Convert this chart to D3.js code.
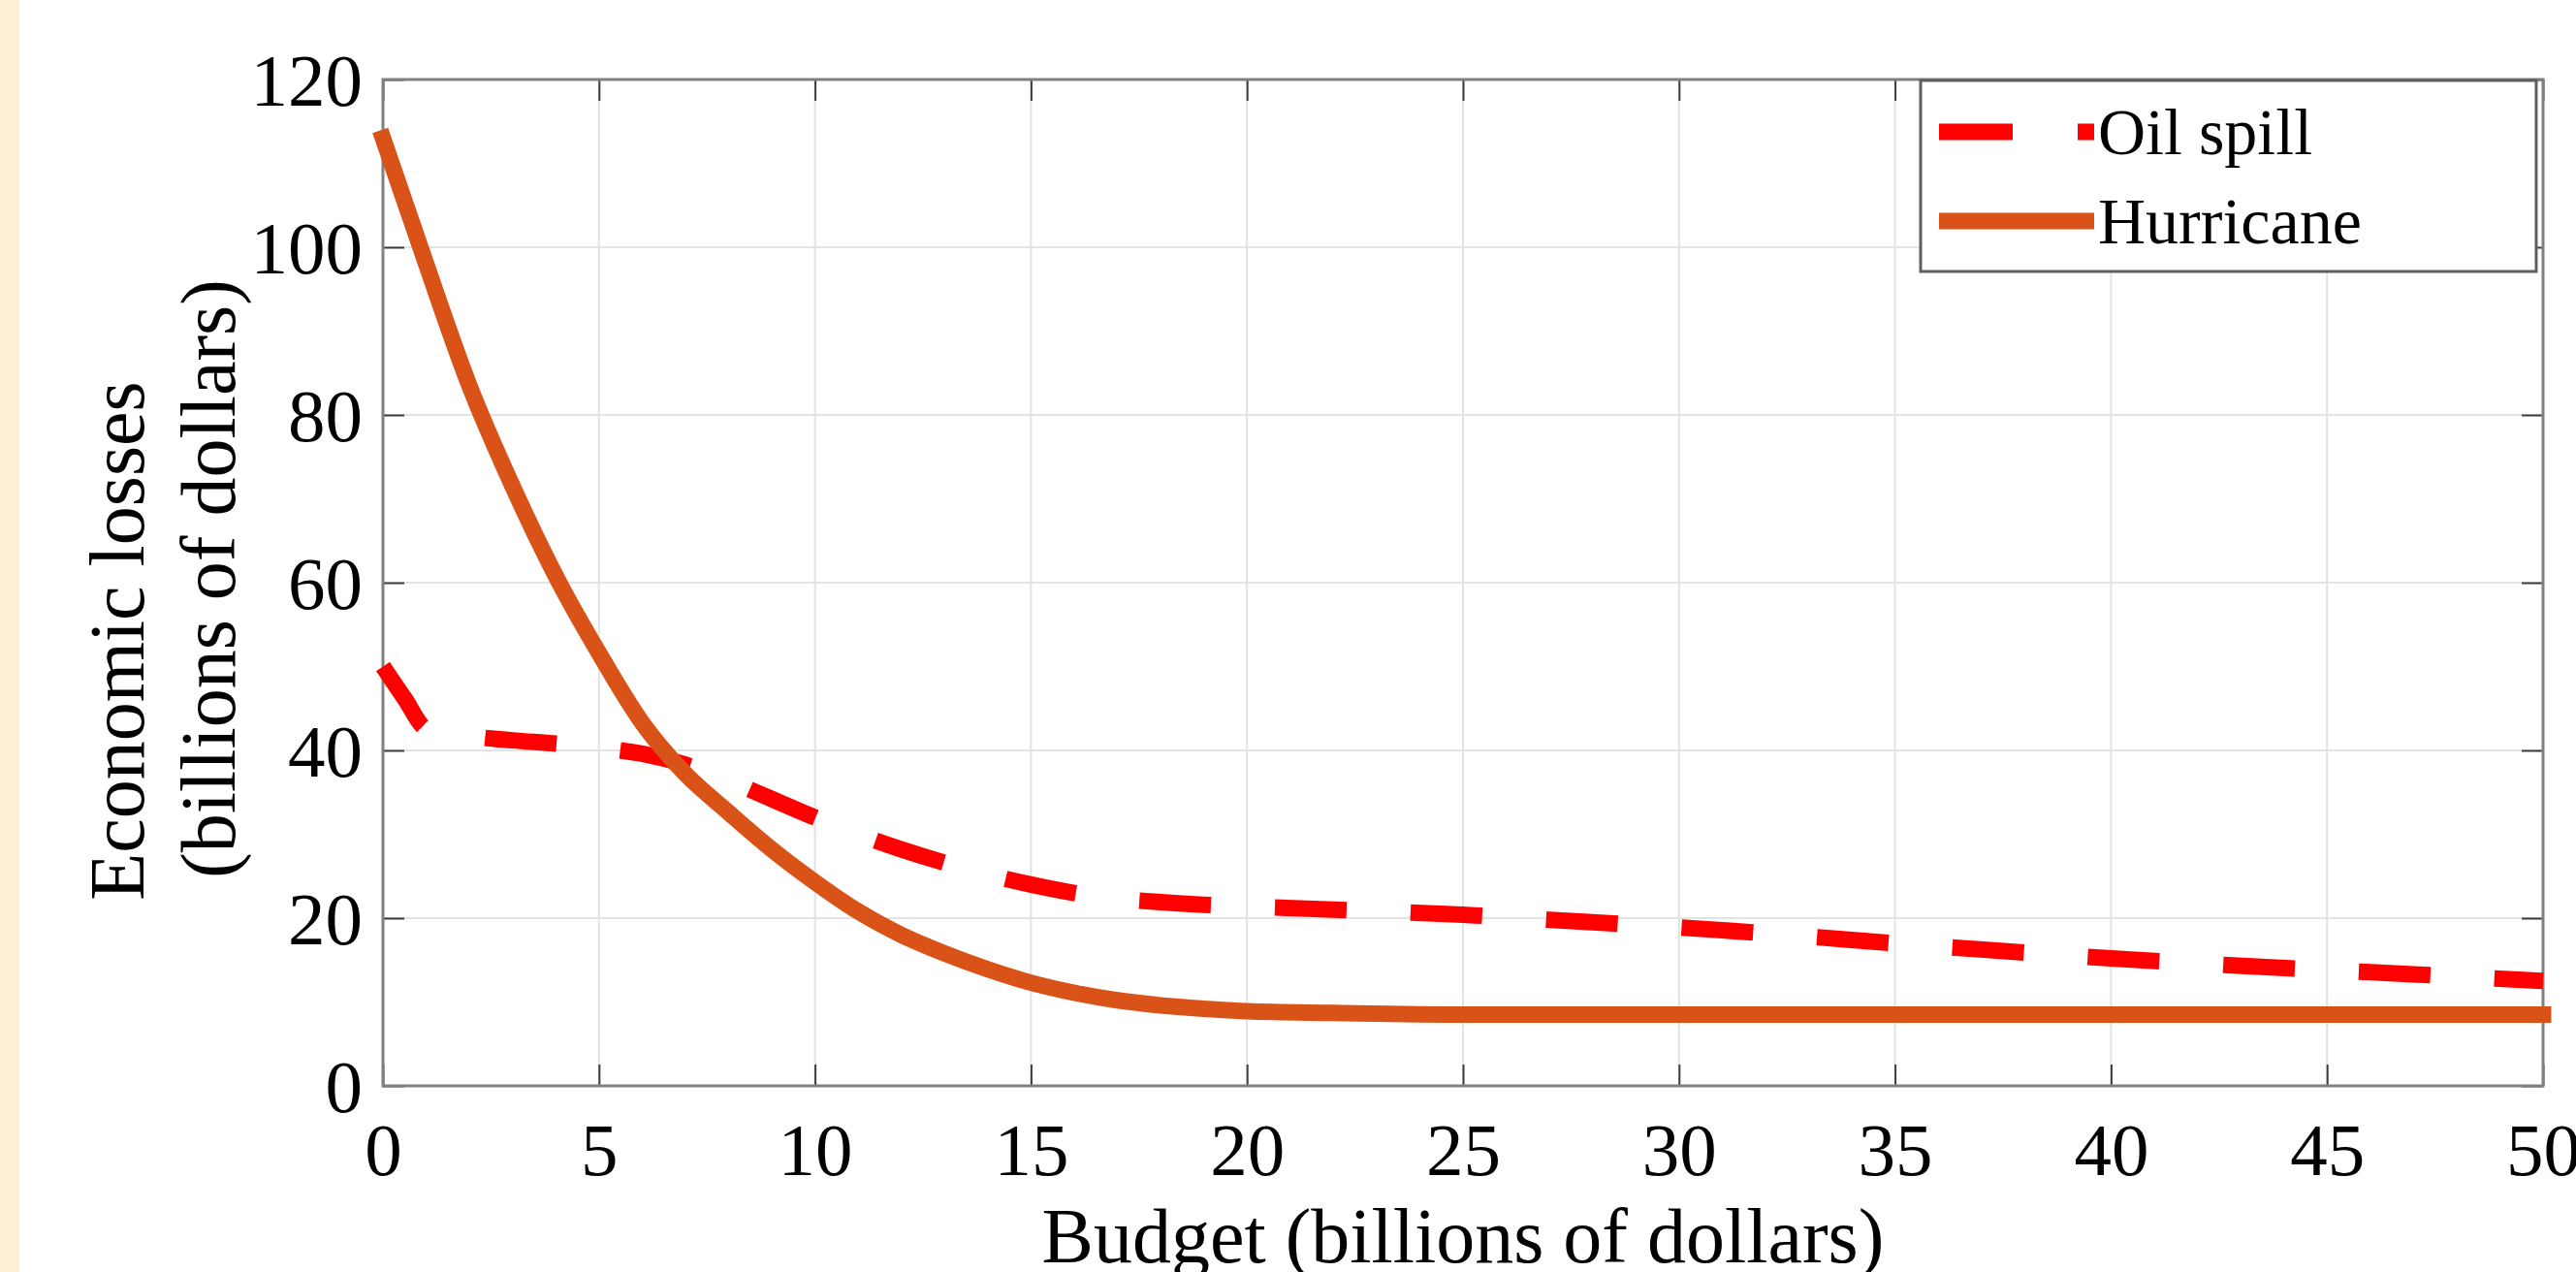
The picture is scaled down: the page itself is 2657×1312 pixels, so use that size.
<!DOCTYPE html>
<html>
<head>
<meta charset="utf-8">
<script src="https://cdn.jsdelivr.net/npm/d3@7"></script>
<style>
  html, body { margin: 0; padding: 0; background: #fff; }
  svg { display: block; font-family: 'Liberation Serif', 'Times New Roman', serif; }
</style>
</head>
<body>
<div id="chart"></div>
<script>
// budget (billions of dollars), shared by both series
const budget = [0, 0.5, 1, 2, 3, 4, 5, 6, 7, 8, 9, 10, 11, 12, 13, 14, 15, 16, 17, 18, 19, 20, 22, 25, 27, 30, 32, 35, 38, 40, 42, 45, 47, 50]
const oilSpill = [50, 46.2, 42.6, 41.7, 41.2, 40.8, 40.3, 39.6, 38.3, 36.4, 34.2, 32, 30, 28.2, 26.6, 25.2, 24, 23, 22.3, 21.9, 21.6, 21.4, 21, 20.4, 19.8, 18.9, 18.2, 17, 15.9, 15.2, 14.6, 13.8, 13.3, 12.5]
const hurricane = [113, 105.5, 98, 83.5, 71.5, 60.8, 51.6, 43.3, 37.2, 32.6, 28.2, 24.3, 20.8, 18, 15.8, 13.9, 12.3, 11.1, 10.2, 9.6, 9.2, 8.9, 8.7, 8.5, 8.5, 8.5, 8.5, 8.5, 8.5, 8.5, 8.5, 8.5, 8.5, 8.5]
const xTicks = [0, 5, 10, 15, 20, 25, 30, 35, 40, 45, 50]
const yTicks = [0, 20, 40, 60, 80, 100, 120]
const seriesNames = ['Oil spill', 'Hurricane']

const W = 2657
const H = 1312
const margin = { top: 82, right: 34, bottom: 192, left: 395 }
const width = W - margin.left - margin.right
const height = H - margin.top - margin.bottom

const svg = d3.select('#chart')
  .append('svg')
  .attr('width', W)
  .attr('height', H)

// cream strip at the left edge
svg.append('rect')
  .attr('x', 0)
  .attr('y', 0)
  .attr('width', 20)
  .attr('height', H)
  .attr('fill', '#fbf0d5')

const g = svg.append('g')
  .attr('transform', `translate(${margin.left},${margin.top})`)

const x = d3.scaleLinear().domain([0, 50]).range([0, width])
const y = d3.scaleLinear().domain([0, 120]).range([height, 0])

// grid
g.append('g')
  .selectAll('line')
  .data(xTicks.slice(1, -1))
  .join('line')
  .attr('x1', d => x(d))
  .attr('x2', d => x(d))
  .attr('y1', 0)
  .attr('y2', height)
  .attr('stroke', '#e3e3e3')
  .attr('stroke-width', 2)

g.append('g')
  .selectAll('line')
  .data(yTicks.slice(1, -1))
  .join('line')
  .attr('x1', 0)
  .attr('x2', width)
  .attr('y1', d => y(d))
  .attr('y2', d => y(d))
  .attr('stroke', '#e3e3e3')
  .attr('stroke-width', 2)

// axes (ticks inward, box on all sides)
const tickLen = 22
const styleAxis = (sel) => {
  sel.select('.domain').remove()
  sel.selectAll('.tick line').attr('stroke', '#3c3c3c').attr('stroke-width', 2)
  sel.selectAll('.tick text')
    .attr('fill', '#000')
    .attr('font-size', 77)
    .attr('font-family', "'Liberation Serif', 'Times New Roman', serif")
}

g.append('g')
  .attr('transform', `translate(0,${height})`)
  .call(d3.axisBottom(x).tickValues(xTicks).tickSize(-tickLen).tickPadding(0).tickFormat(d3.format('d')))
  .call(styleAxis)
  .call(s => s.selectAll('.tick text').attr('dy', null).attr('y', 92))

g.append('g')
  .call(d3.axisTop(x).tickValues(xTicks).tickSize(-tickLen).tickFormat(''))
  .call(styleAxis)

g.append('g')
  .call(d3.axisLeft(y).tickValues(yTicks).tickSize(-tickLen).tickPadding(0).tickFormat(d3.format('d')))
  .call(styleAxis)
  .call(s => s.selectAll('.tick text').attr('x', -21).attr('dy', '0.34em'))

g.append('g')
  .attr('transform', `translate(${width},0)`)
  .call(d3.axisRight(y).tickValues(yTicks).tickSize(-tickLen).tickFormat(''))
  .call(styleAxis)

g.append('rect')
  .attr('x', 0)
  .attr('y', 0)
  .attr('width', width)
  .attr('height', height)
  .attr('fill', 'none')
  .attr('stroke', '#808080')
  .attr('stroke-width', 3)

// lines
const line = (values) => d3.line()
  .x((d, i) => x(budget[i]))
  .y(d => y(d))
  .curve(d3.curveMonotoneX)(values)

g.append('path')
  .attr('d', line(oilSpill))
  .attr('fill', 'none')
  .attr('stroke', '#ff0000')
  .attr('stroke-width', 17)
  .attr('stroke-dasharray', '74,66')

g.append('path')
  .attr('d', line(hurricane))
  .attr('fill', 'none')
  .attr('stroke', '#d95319')
  .attr('stroke-width', 17)
  .attr('stroke-linecap', 'square')

// legend
const legend = svg.append('g')
  .attr('transform', 'translate(1981,83)')

legend.append('rect')
  .attr('width', 635)
  .attr('height', 197)
  .attr('fill', '#fff')
  .attr('stroke', '#5e5e5e')
  .attr('stroke-width', 3)

const legendItems = [
  { name: seriesNames[0], color: '#ff0000', dash: '76,67', y: 53 },
  { name: seriesNames[1], color: '#d95319', dash: null, y: 145 }
]

legendItems.forEach(item => {
  legend.append('line')
    .attr('x1', 19)
    .attr('x2', 179)
    .attr('y1', item.y)
    .attr('y2', item.y)
    .attr('stroke', item.color)
    .attr('stroke-width', 17)
    .attr('stroke-dasharray', item.dash)

  legend.append('text')
    .attr('x', 183)
    .attr('y', item.y + 23)
    .attr('font-size', 68)
    .attr('fill', '#000')
    .text(item.name)
})

// axis labels
svg.append('text')
  .attr('x', margin.left + width / 2)
  .attr('y', 1302)
  .attr('text-anchor', 'middle')
  .attr('font-size', 80)
  .attr('fill', '#000')
  .text('Budget (billions of dollars)')

svg.append('text')
  .attr('transform', 'translate(148,661) rotate(-90)')
  .attr('text-anchor', 'middle')
  .attr('font-size', 80)
  .attr('fill', '#000')
  .text('Economic losses')

svg.append('text')
  .attr('transform', 'translate(242,597) rotate(-90)')
  .attr('text-anchor', 'middle')
  .attr('font-size', 80)
  .attr('fill', '#000')
  .text('(billions of dollars)')
</script>
</body>
</html>
